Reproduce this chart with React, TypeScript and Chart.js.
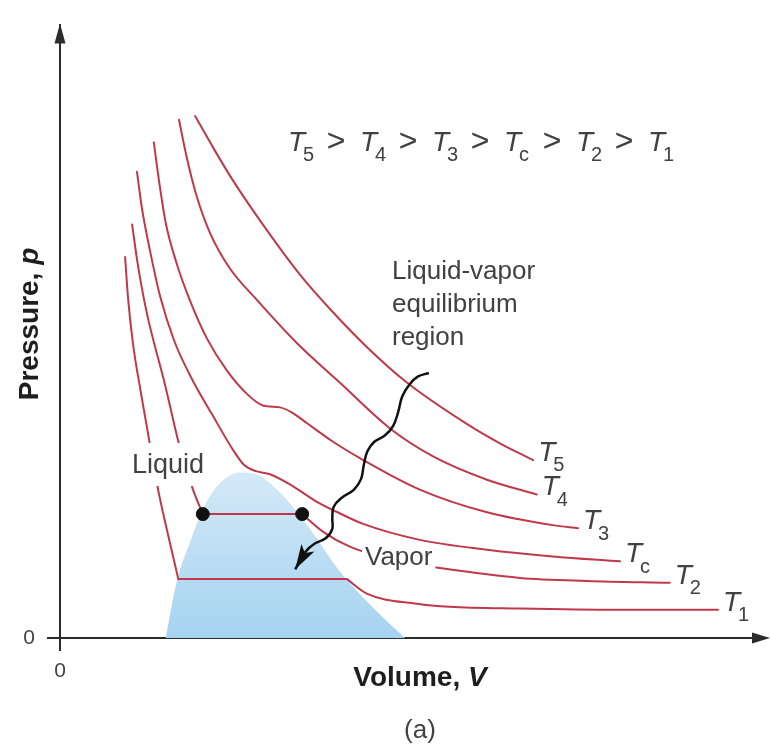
import { useEffect, useRef } from "react";
import { Chart, registerables } from "chart.js";

Chart.register(...registerables);

// ---- Data (V, p in arbitrary units) ----
const T5_V = [1.93, 2.20, 2.47, 2.96, 3.43, 3.90, 4.36, 4.96, 5.81, 6.29, 6.76];
const T5_P = [8.51, 7.97, 7.46, 6.64, 5.92, 5.31, 4.77, 4.16, 3.49, 3.17, 2.90];

const T4_V = [1.70, 1.80, 1.94, 2.14, 2.43, 2.79, 3.39, 4.00, 4.71, 5.33, 6.10, 6.81];
const T4_P = [8.45, 7.89, 7.25, 6.61, 6.02, 5.54, 4.80, 4.16, 3.42, 2.96, 2.58, 2.34];

const T3_V = [1.34, 1.41, 1.51, 1.66, 1.86, 2.10, 2.39, 2.67, 2.90, 3.14, 3.31, 3.53, 3.90, 4.29, 5.14, 6.10, 7.04, 7.40];
const T3_P = [8.08, 7.49, 6.77, 6.13, 5.49, 4.88, 4.35, 3.98, 3.79, 3.76, 3.68, 3.50, 3.20, 2.93, 2.42, 2.05, 1.84, 1.79];

const TC_V = [1.10, 1.17, 1.29, 1.43, 1.63, 1.89, 2.17, 2.47, 2.63, 2.80, 3.00, 3.29, 3.67, 4.00, 4.33, 5.14, 6.10, 7.04, 8.00];
const TC_P = [7.60, 7.01, 6.29, 5.57, 4.85, 4.21, 3.65, 3.07, 2.82, 2.72, 2.67, 2.50, 2.22, 2.03, 1.86, 1.60, 1.44, 1.33, 1.25];

const T2_LIQ_V = [1.03, 1.11, 1.24, 1.50, 1.71, 1.90, 2.04];
const T2_LIQ_P = [6.74, 6.10, 5.30, 4.13, 3.12, 2.42, 2.02];
const T2_PLATEAU_V = [2.04, 3.46];
const T2_PLATEAU_P = [2.02, 2.02];
const T2_VAP_V = [3.46, 3.76, 4.14, 4.86, 5.43, 6.57, 7.53, 8.71];
const T2_VAP_P = [2.02, 1.73, 1.49, 1.25, 1.14, 0.98, 0.93, 0.90];

const T1_LIQ_V = [0.93, 0.97, 1.04, 1.16, 1.29, 1.41, 1.54, 1.69];
const T1_LIQ_P = [6.21, 5.57, 4.82, 3.97, 3.12, 2.37, 1.70, 0.96];
const T1_PLATEAU_V = [1.69, 4.10];
const T1_PLATEAU_P = [0.96, 0.96];
const T1_VAP_V = [4.10, 4.39, 5.10, 5.57, 6.57, 8.00, 9.40];
const T1_VAP_P = [0.96, 0.72, 0.56, 0.51, 0.48, 0.46, 0.46];

const DOME_V = [1.51, 1.67, 1.86, 2.04, 2.29, 2.57, 2.81, 3.10, 3.39, 3.67, 3.96, 4.24, 4.61, 4.93];
const DOME_P = [0, 0.93, 1.57, 2.10, 2.53, 2.70, 2.67, 2.42, 2.05, 1.62, 1.14, 0.77, 0.34, 0];

const DOT_V = [2.04, 3.46];
const DOT_P = [2.02, 2.02];

const WAVE_V = [5.27, 5.11, 4.99, 4.89, 4.83, 4.76, 4.64, 4.49, 4.39, 4.34, 4.30, 4.20, 4.03, 3.91, 3.89, 3.89, 3.80, 3.64, 3.51, 3.36];
const WAVE_P = [4.32, 4.26, 4.13, 3.94, 3.68, 3.46, 3.30, 3.20, 3.04, 2.82, 2.59, 2.42, 2.29, 2.14, 1.95, 1.78, 1.63, 1.54, 1.41, 1.12];

const X_TICKS = [0];
const Y_TICKS = [0];
const ORDER_SUBS = ["5", "4", "3", "c", "2", "1"];

// ---- Styling ----
const FONT = '"Liberation Sans", Arial, sans-serif';
const RED = "#c0394a";
const TEXT = "#414141";
const AXIS = "#2b2b2b";

const pts = (V: number[], P: number[]) => V.map((v, i) => ({ x: v, y: P[i] }));
const gap = (x: number) => ({ x, y: null as any });

function isoLabel(ctx: CanvasRenderingContext2D, sub: string, x: number, y: number, size: number, subSize: number) {
  ctx.font = `italic ${size}px ${FONT}`;
  ctx.fillText("T", x, y);
  ctx.font = `${subSize}px ${FONT}`;
  ctx.fillText(sub, x + size * 0.54, y + size * 0.37);
}

const annotate = {
  id: "annotate",
  afterDatasetsDraw(chart: any) {
    const ctx: CanvasRenderingContext2D = chart.ctx;
    ctx.save();
    ctx.textBaseline = "alphabetic";
    ctx.textAlign = "left";

    const boxText = (text: string, left: number, base: number, size: number, padTop: number, padBottom: number) => {
      ctx.font = `${size}px ${FONT}`;
      const w = ctx.measureText(text).width;
      ctx.fillStyle = "#ffffff";
      ctx.fillRect(left - 3, base - padTop, w + 6, padTop + padBottom);
      ctx.fillStyle = TEXT;
      ctx.fillText(text, left, base);
    };

    boxText("Liquid", 132, 473, 27, 30, 13);
    boxText("Vapor", 365, 565, 26, 19, 8);

    ctx.fillStyle = TEXT;
    ctx.font = `26px ${FONT}`;
    ctx.fillText("Liquid-vapor", 392, 279);
    ctx.fillText("equilibrium", 392, 312);
    ctx.fillText("region", 392, 345);

    // isotherm end labels
    chart.data.datasets.forEach((ds: any, i: number) => {
      if (!ds.endLabel) return;
      const meta = chart.getDatasetMeta(i);
      const el = meta.data[meta.data.length - 1];
      ctx.fillStyle = TEXT;
      isoLabel(ctx, ds.endLabel, el.x + 5, el.y + 1, 28, 20);
    });

    // ordering text
    ctx.fillStyle = TEXT;
    let tx = 288;
    ORDER_SUBS.forEach((s, i) => {
      isoLabel(ctx, s, tx, 151, 28, 20);
      if (i < ORDER_SUBS.length - 1) {
        ctx.font = `32px ${FONT}`;
        ctx.textAlign = "center";
        ctx.fillText(">", tx + 48, 151);
        ctx.textAlign = "left";
      }
      tx += 72;
    });

    // arrowhead of wavy arrow
    const xs = chart.scales.x, ys = chart.scales.y;
    const n = WAVE_V.length;
    const tipX = xs.getPixelForValue(WAVE_V[n - 1]);
    const tipY = ys.getPixelForValue(WAVE_P[n - 1]);
    const bX = xs.getPixelForValue(WAVE_V[n - 2]);
    const bY = ys.getPixelForValue(WAVE_P[n - 2]);
    const ang = Math.atan2(tipY - bY, tipX - bX);
    const L = 25, H = 7.5;
    ctx.save();
    ctx.translate(tipX, tipY);
    ctx.rotate(ang);
    ctx.fillStyle = "#111";
    ctx.beginPath();
    ctx.moveTo(0, 0);
    ctx.lineTo(-L, -H);
    ctx.lineTo(-L + 6, 0);
    ctx.lineTo(-L, H);
    ctx.closePath();
    ctx.fill();
    ctx.restore();

    ctx.restore();
  },
  afterDraw(chart: any) {
    const ctx: CanvasRenderingContext2D = chart.ctx;
    const a = chart.chartArea;
    ctx.save();
    ctx.fillStyle = AXIS;
    // y arrow
    ctx.beginPath();
    ctx.moveTo(a.left, a.top - 1);
    ctx.lineTo(a.left - 5.5, a.top + 19);
    ctx.lineTo(a.left + 5.5, a.top + 19);
    ctx.closePath();
    ctx.fill();
    // x arrow
    ctx.beginPath();
    ctx.moveTo(a.right + 10, a.bottom);
    ctx.lineTo(a.right - 8, a.bottom - 5.5);
    ctx.lineTo(a.right - 8, a.bottom + 5.5);
    ctx.closePath();
    ctx.fill();

    // axis titles
    ctx.fillStyle = "#1e1e1e";
    ctx.textBaseline = "alphabetic";
    ctx.textAlign = "left";
    const drawMixed = (plain: string, ital: string, cx: number, base: number) => {
      ctx.font = `bold 28px ${FONT}`;
      const w1 = ctx.measureText(plain).width;
      ctx.font = `italic bold 28px ${FONT}`;
      const w2 = ctx.measureText(ital).width;
      const start = cx - (w1 + w2) / 2;
      ctx.font = `bold 28px ${FONT}`;
      ctx.fillText(plain, start, base);
      ctx.font = `italic bold 28px ${FONT}`;
      ctx.fillText(ital, start + w1, base);
    };
    drawMixed("Volume, ", "V", 420, 686);
    ctx.save();
    ctx.translate(38, 324);
    ctx.rotate(-Math.PI / 2);
    drawMixed("Pressure, ", "p", 0, 0);
    ctx.restore();

    ctx.fillStyle = TEXT;
    ctx.font = `26px ${FONT}`;
    ctx.textAlign = "center";
    ctx.fillText("(a)", 420, 738);
    ctx.restore();
  },
};

export default function App() {
  const ref = useRef<HTMLCanvasElement | null>(null);

  useEffect(() => {
    document.body.style.margin = "0";
    const canvas = ref.current;
    if (!canvas) return;

    const iso = (label: string, sub: string, data: any[]) => ({
      label,
      endLabel: sub,
      data,
      borderColor: RED,
      borderWidth: 2,
      borderCapStyle: "round",
      borderJoinStyle: "round",
      pointRadius: 0,
      cubicInterpolationMode: "monotone",
      fill: false,
      order: 2,
    });

    const chart = new Chart(canvas, {
      type: "line",
      data: {
        datasets: [
          {
            type: "scatter",
            label: "states",
            data: pts(DOT_V, DOT_P),
            backgroundColor: "#111",
            borderColor: "#111",
            pointRadius: 6.5,
            order: 0,
          } as any,
          {
            label: "wave",
            data: pts(WAVE_V, WAVE_P),
            borderColor: "#111",
            borderWidth: 2.5,
            pointRadius: 0,
            tension: 0.4,
            fill: false,
            order: 1,
          },
          iso("T5", "5", pts(T5_V, T5_P)),
          iso("T4", "4", pts(T4_V, T4_P)),
          iso("T3", "3", pts(T3_V, T3_P)),
          iso("Tc", "c", pts(TC_V, TC_P)),
          iso("T2", "2", [
            ...pts(T2_LIQ_V, T2_LIQ_P),
            gap(T2_PLATEAU_V[0]),
            ...pts(T2_PLATEAU_V, T2_PLATEAU_P),
            gap(T2_PLATEAU_V[1]),
            ...pts(T2_VAP_V, T2_VAP_P),
          ]),
          iso("T1", "1", [
            ...pts(T1_LIQ_V, T1_LIQ_P),
            gap(T1_PLATEAU_V[0]),
            ...pts(T1_PLATEAU_V, T1_PLATEAU_P),
            gap(T1_PLATEAU_V[1]),
            ...pts(T1_VAP_V, T1_VAP_P),
          ]),
          {
            label: "dome",
            data: pts(DOME_V, DOME_P),
            borderWidth: 0,
            borderColor: "rgba(0,0,0,0)",
            pointRadius: 0,
            cubicInterpolationMode: "monotone",
            fill: "origin",
            order: 3,
            backgroundColor: (c: any) => {
              const ch = c.chart;
              const area = ch.chartArea;
              if (!area) return "#bfe0f5";
              const top = ch.scales.y.getPixelForValue(Math.max(...DOME_P));
              const g = ch.ctx.createLinearGradient(0, top, 0, area.bottom);
              g.addColorStop(0, "#d4e9f7");
              g.addColorStop(1, "#a5d3f1");
              return g;
            },
          },
        ] as any,
      },
      options: {
        responsive: false,
        animation: false,
        devicePixelRatio: 1,
        events: [],
        layout: { padding: { left: 0, right: 10, top: 13, bottom: 0 } },
        plugins: {
          legend: { display: false },
          tooltip: { enabled: false },
        },
        scales: {
          x: {
            type: "linear",
            min: 0,
            max: 10,
            afterFit: (s: any) => {
              s.height = 110;
            },
            afterBuildTicks: (s: any) => {
              s.ticks = X_TICKS.map((v) => ({ value: v }));
            },
            ticks: {
              color: "#444",
              font: { family: FONT, size: 21 },
              padding: 8,
              maxRotation: 0,
              autoSkip: false,
            },
            grid: { drawOnChartArea: false, drawTicks: true, tickLength: 13, color: AXIS, lineWidth: 2 },
            border: { display: true, color: AXIS, width: 2 },
          },
          y: {
            type: "linear",
            min: 0,
            max: 10,
            afterFit: (s: any) => {
              s.width = 60;
            },
            afterBuildTicks: (s: any) => {
              s.ticks = Y_TICKS.map((v) => ({ value: v }));
            },
            ticks: {
              color: "#444",
              font: { family: FONT, size: 21 },
              padding: 12,
              autoSkip: false,
            },
            grid: { drawOnChartArea: false, drawTicks: true, tickLength: 13, color: AXIS, lineWidth: 2 },
            border: { display: true, color: AXIS, width: 2 },
          },
        },
      } as any,
      plugins: [annotate],
    });

    return () => chart.destroy();
  }, []);

  return (
    <canvas
      ref={ref}
      width={770}
      height={748}
      style={{ display: "block", position: "absolute", left: 0, top: 0, width: 770, height: 748 }}
    />
  );
}
